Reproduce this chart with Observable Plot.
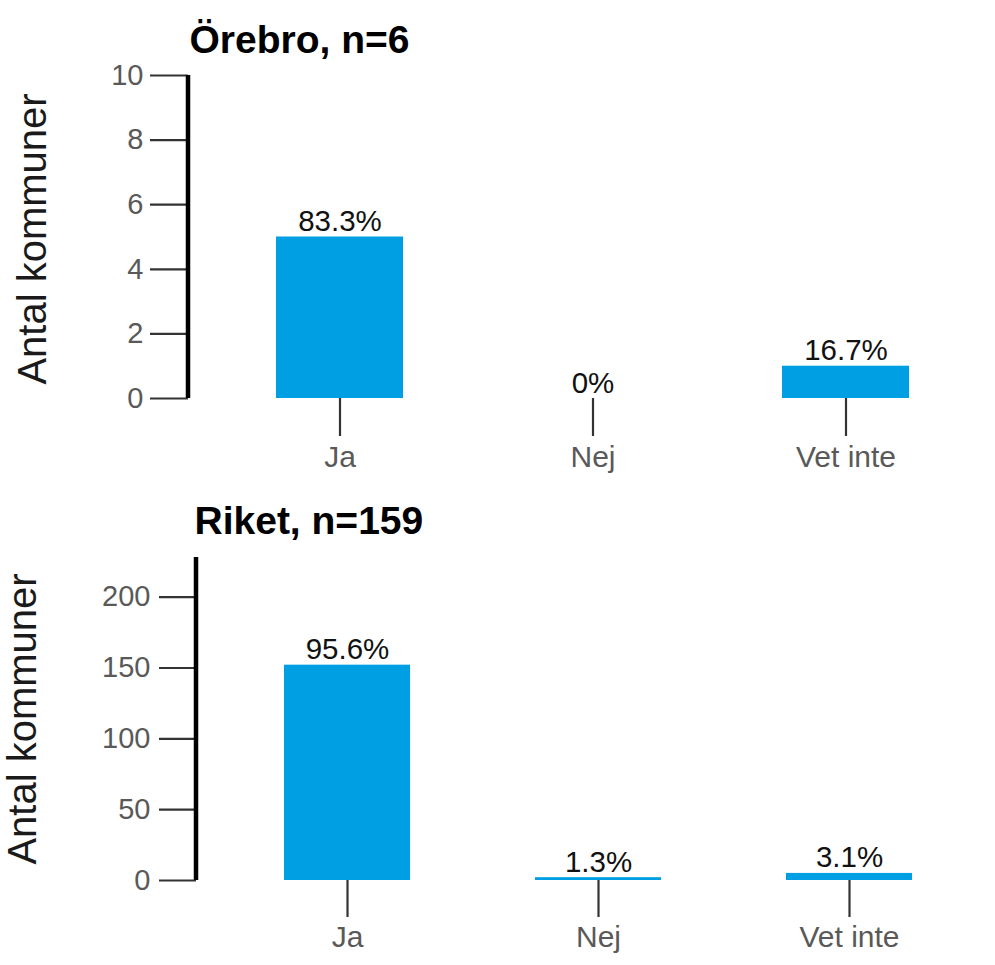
<!DOCTYPE html>
<html><head><meta charset="utf-8">
<script src="https://cdn.jsdelivr.net/npm/d3@7"></script>
<script src="https://cdn.jsdelivr.net/npm/@observablehq/plot@0.6"></script>
<style>
body{margin:0;background:#fff;font-family:"Liberation Sans",Arial,sans-serif;overflow:hidden}
#chart svg{display:block}
</style>
</head><body><div id="chart"></div>
<script>
// ---- data ----
const categories = ["Ja", "Nej", "Vet inte"];
const orebroTitle = "Örebro, n=6";
const orebroCounts = [5, 0, 1];
const orebroPct = ["83.3%", "0%", "16.7%"];
const orebroTicks = [0, 2, 4, 6, 8, 10];
const orebroYMax = 10;

const riketTitle = "Riket, n=159";
const riketCounts = [152, 2, 5];
const riketPct = ["95.6%", "1.3%", "3.1%"];
const riketTicks = [0, 50, 100, 150, 200];
const riketYMax = 228;

const yLabel = "Antal kommuner";

// ---- drawing ----
const FONT = "Liberation Sans, Arial, sans-serif";
const BAR = "#009fe3";

function panel(o) {
  const data = categories.map((c, i) => ({cat: c, n: o.counts[i], pct: o.pct[i]}));
  const axisLine = (index, scales, values, dims) => {
    return d3.create("svg:line")
      .attr("x1", dims.marginLeft).attr("x2", dims.marginLeft)
      .attr("y1", dims.height - dims.marginBottom).attr("y2", dims.marginTop)
      .attr("stroke", "#000").attr("stroke-width", 4.5)
      .node();
  };
  return Plot.plot({
    width: 995,
    height: o.height,
    marginTop: o.marginTop,
    marginBottom: o.marginBottom,
    marginLeft: o.marginLeft,
    marginRight: o.marginRight,
    style: {fontFamily: FONT, background: "#fff"},
    x: {domain: categories, paddingInner: o.pi, paddingOuter: o.po, axis: null},
    y: {domain: [0, o.yMax], axis: null},
    marks: [
      Plot.barY(data, {x: "cat", y: "n", fill: BAR}),
      Plot.axisY({ticks: o.ticks, tickSize: o.tickSize, tickPadding: o.tickPadding, fontSize: 29,
        fill: "#595959", stroke: "#333", strokeWidth: 2.2, label: null}),
      Plot.axisX({tickSize: o.xTickSize, tickPadding: o.xTickPadding, fontSize: 30,
        fill: "#595959", stroke: "#333", strokeWidth: 2.2, label: null}),
      axisLine,
      Plot.text(data, {x: "cat", y: "n", text: "pct", lineAnchor: "bottom", dy: -6,
        fontSize: 29.5, fill: "#111"}),
      Plot.text([o.title], {frameAnchor: "top-left", textAnchor: "start", lineAnchor: "bottom",
        dx: o.titleDx, dy: o.titleDy, fontSize: 39, fontWeight: "bold", fill: "#000"}),
      Plot.text([yLabel], {frameAnchor: "left", textAnchor: "middle", lineAnchor: "middle", rotate: -90,
        dx: o.labelX - o.marginLeft, dy: o.labelDy, fontSize: 40, fill: "#1a1a1a"})
    ]
  });
}

const topPanel = panel({
  counts: orebroCounts, pct: orebroPct, title: orebroTitle, ticks: orebroTicks, yMax: orebroYMax,
  height: 480, marginTop: 75, marginBottom: 82, marginLeft: 188, marginRight: -2,
  pi: 0.5, po: 0.345, tickSize: 38, tickPadding: 7, xTickSize: 38, xTickPadding: 9,
  titleDx: 1, titleDy: -23, labelX: 33, labelDy: 2
});
const bottomPanel = panel({
  counts: riketCounts, pct: riketPct, title: riketTitle, ticks: riketTicks, yMax: riketYMax,
  height: 485, marginTop: 77, marginBottom: 85, marginLeft: 196, marginRight: -4,
  pi: 0.5, po: 0.345, tickSize: 37, tickPadding: 9, xTickSize: 37, xTickPadding: 8,
  titleDx: -2, titleDy: -24, labelX: 23, labelDy: 0
});
const el = document.getElementById("chart");
el.appendChild(topPanel);
el.appendChild(bottomPanel);
</script>
</body></html>
